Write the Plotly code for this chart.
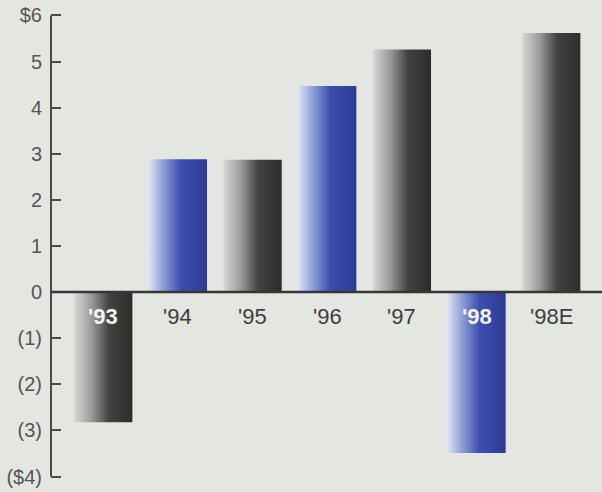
import plotly.graph_objects as go

# Earnings per share by year
years = ["'93", "'94", "'95", "'96", "'97", "'98", "'98E"]
eps = [-2.82, 2.88, 2.87, 4.47, 5.26, -3.49, 5.62]
bar_tone = ["gray", "blue", "gray", "blue", "gray", "blue", "gray"]
label_on_bar = [True, False, False, False, False, True, False]

y_ticks = [6, 5, 4, 3, 2, 1, 0, -1, -2, -3, -4]
y_tick_text = ["$6", "5", "4", "3", "2", "1", "0", "(1)", "(2)", "(3)", "($4)"]

BG = "#e4e6e2"
INK = "#3e3e3e"
AXIS = "#4a4a4a"
FONT = "Liberation Sans, Arial, sans-serif"
BAR_WIDTH = 0.78

gradients = {
    "gray": [[0.0, "#d8d8d6"], [0.3, "#9a9a98"], [0.6, "#424240"], [1.0, "#2c2c2a"]],
    "blue": [[0.0, "#dfe4f2"], [0.25, "#8f9ed6"], [0.55, "#3d4fae"], [1.0, "#2c3b96"]],
}

fig = go.Figure()

for i, (val, tone) in enumerate(zip(eps, bar_tone)):
    x0, x1 = i - BAR_WIDTH / 2, i + BAR_WIDTH / 2
    fig.add_trace(go.Scatter(
        x=[x0, x1, x1, x0, x0],
        y=[0, 0, val, val, 0],
        mode="lines",
        line=dict(width=0),
        fill="toself",
        fillgradient=dict(type="horizontal", colorscale=gradients[tone]),
        hoverinfo="skip",
        showlegend=False,
    ))

# Year labels sit just below the zero line; white where they fall on a bar
for i, (name, on_bar) in enumerate(zip(years, label_on_bar)):
    fig.add_annotation(
        x=i, y=0, xref="x", yref="y",
        text=f"<b>{name}</b>" if on_bar else name,
        showarrow=False, yanchor="middle", yshift=-24,
        font=dict(family=FONT, size=22, color="#f2f2f2" if on_bar else INK),
    )

# Vertical axis line spanning the labelled range
fig.add_shape(type="line", xref="paper", yref="y", x0=0, x1=0,
              y0=min(y_ticks), y1=max(y_ticks),
              line=dict(color=AXIS, width=2), layer="above")

# Zero baseline across the full width, over the bars
fig.add_shape(type="line", xref="paper", yref="y", x0=0, x1=1, y0=0, y1=0,
              line=dict(color="#363636", width=2.5), layer="above")

fig.update_layout(
    width=602, height=492,
    margin=dict(l=51, r=0, t=14, b=14),
    paper_bgcolor=BG, plot_bgcolor=BG,
    font=dict(family=FONT, color=INK),
    xaxis=dict(range=[-0.70, 6.68], visible=False, fixedrange=True),
    yaxis=dict(
        range=[-4.03, 6.03], tickvals=y_ticks, ticktext=y_tick_text,
        ticks="inside", ticklen=10, tickwidth=2, tickcolor=AXIS,
        showline=False, showgrid=False, zeroline=False, ticklabelstandoff=8,
        tickfont=dict(family=FONT, size=20, color="#555555"), fixedrange=True,
    ),
)

fig.write_html("out.html")
